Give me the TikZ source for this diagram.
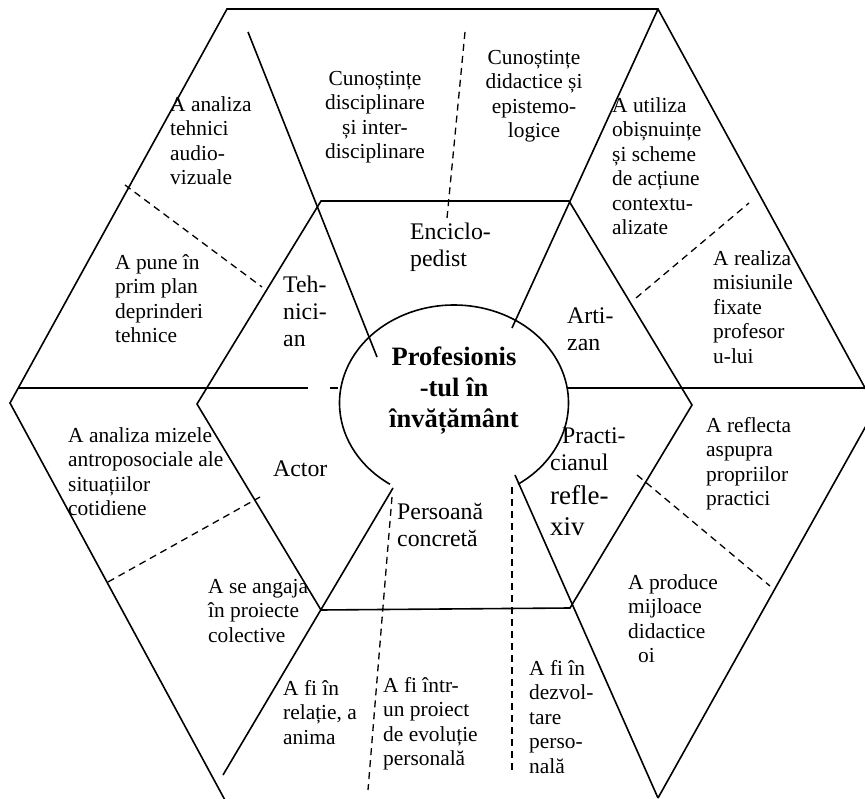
\documentclass[tikz,border=0pt]{standalone}
\usepackage{fontspec}
\setmainfont{Liberation Serif}

\begin{document}
\begin{tikzpicture}[x=1pt, y=-1pt,
    line/.style={line width=1.6pt},
    cut/.style={line width=1.3pt, dash pattern=on 7pt off 5pt},
    txt/.style={anchor=north west, inner sep=0pt, align=left,
      font=\fontsize{21.4}{24.5}\selectfont},
    role/.style={anchor=north west, inner sep=0pt, align=left,
      font=\fontsize{23.8}{27}\selectfont},
    big/.style={anchor=north west, inner sep=0pt, align=left,
      font=\fontsize{27}{30.5}\selectfont},
    core/.style={anchor=north, inner sep=0pt, align=center,
      font=\bfseries\fontsize{26.5}{31}\selectfont}
  ]
    \clip (0,0) rectangle (865,799);

    \coordinate (ot1) at (227,9);
    \coordinate (ot2) at (658,9);
    \coordinate (or)  at (876,408);
    \coordinate (ob2) at (658,798);
    \coordinate (ol)  at (10,403);
    \coordinate (ob1) at (226,802);

    \coordinate (h1) at (321,201);
    \coordinate (h2) at (569,201);
    \coordinate (h3) at (692,405);
    \coordinate (h4) at (570,608);
    \coordinate (h5) at (321,610);
    \coordinate (h6) at (197,404);

    \coordinate (a1) at (248,32);   \coordinate (a2) at (377,357);
    \coordinate (b2) at (512,328);
    \coordinate (d1) at (515,475);
    \coordinate (e1) at (393,488);  \coordinate (e2) at (223,775);
    \coordinate (c)  at (454,403);

    \draw[line] (ob1) -- (ol) -- (ot1) -- (ot2) -- (or) -- (ob2);
    \draw[line] (h1) -- (h2) -- (h3) -- (h4) -- (h5) -- (h6) -- cycle;
    \draw[line] (a1) -- (a2);
    \draw[line] (ot2) -- (b2);
    \draw[line] (d1) -- (ob2);
    \draw[line] (e1) -- (e2);
    \draw[line] (18,388) -- (308,388);
    \draw[line] (330,388) -- (338,388);
    \draw[line] (568,388) -- (870,388);
    \draw[line] (c) ++(-56:114.5pt and 98pt)
      arc[start angle=-56, end angle=236, x radius=114.5pt, y radius=98pt];

    \draw[cut] (465,32) -- (447,218);
    \draw[cut] (125,185) -- (262,287);
    \draw[cut] (636,298) -- (749,203);
    \draw[cut] (637,475) -- (770,586);
    \draw[cut] (108,582) -- (260,497);
    \draw[cut] (392,497) -- (368,790);
    \draw[cut] (512,487) -- (512,774);

    \node[txt, anchor=north, align=center] (cunDis) at (375,71) {Cunoștințe\\disciplinare\\și inter-\\disciplinare};
    \node[txt, anchor=north, align=center] (cunDid) at (534,50) {Cunoștințe\\didactice și\\epistemo-\\logice};
    \node[txt] (audio)   at (170,96)  {A analiza\\tehnici\\audio-\\vizuale};
    \node[txt] (deprind) at (115,254) {A pune în\\prim plan\\deprinderi\\tehnice};
    \node[role] (tehn)   at (283,276) {Teh-\\nici-\\an};
    \node[role] (encic)  at (410,223) {Enciclo-\\pedist};
    \node[txt] (obisn)   at (612,97)  {A utiliza\\obișnuințe\\și scheme\\de acțiune\\contextu-\\alizate};
    \node[txt] (misiuni) at (713,250) {A realiza\\misiunile\\fixate\\profesor\\u-lui};
    \node[role] (arti)   at (567,308) {Arti-\\zan};
    \node[core] (prof)   at (454,347) {Profesionis\\-tul în\\învățământ};
    \node[role] (practi) at (550,428) {\hspace*{12pt}Practi-\\cianul};
    \node[big] (refle)   at ([yshift=-14pt]practi.south west) {refle-\\xiv};
    \node[role] (persoana) at (397,503) {Persoană\\concretă};
    \node[txt] (reflecta)  at (706,417) {A reflecta\\aspupra\\propriilor\\practici};
    \node[txt] (mijloace)  at (628,574) {A produce\\mijloace\\didactice\\\hspace*{10pt}oi};
    \node[txt] (dezvolt)   at (529,660) {A fi în\\dezvol-\\tare\\perso-\\nală};
    \node[txt] (evolutie)  at (383,677) {A fi într-\\un proiect\\de evoluție\\personală};
    \node[txt] (relatie)   at (283,680) {A fi în\\relație, a\\anima};
    \node[txt] (mizele)    at (68,427)  {A analiza mizele\\antroposociale ale\\situațiilor\\cotidiene};
    \node[role] (actor)    at (273,461) {Actor};
    \node[txt] (angaja)    at (208,579) {A se angaja\\în proiecte\\colective};
\end{tikzpicture}
\end{document}
